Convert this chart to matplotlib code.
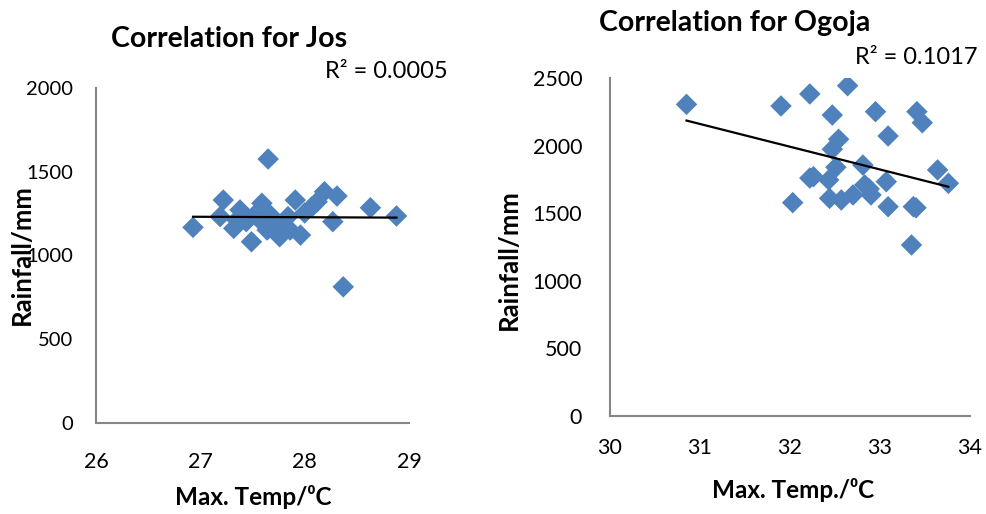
import numpy as np
import matplotlib
matplotlib.use("Agg")
import matplotlib.pyplot as plt

plt.rcParams['font.family'] = ['Lato', 'DejaVu Sans']

# ---- Data ----
jos_temp = [27.65, 27.22, 26.93, 27.19, 27.38, 27.32, 27.49, 27.59, 27.44, 27.57,
            27.67, 27.64, 27.76, 27.84, 27.91, 27.86, 27.96, 28.00, 28.07, 28.12,
            28.19, 28.31, 28.27, 28.37, 28.63, 28.88, 27.35, 27.79, 27.53, 27.72]
jos_rain = [1576, 1331, 1168, 1232, 1272, 1162, 1082, 1312, 1202, 1212,
            1242, 1152, 1112, 1232, 1331, 1152, 1122, 1254, 1291, 1321,
            1381, 1355, 1202, 813, 1285, 1236, 1212, 1182, 1248, 1200]

ogoja_temp = [30.85, 31.90, 32.22, 32.64, 32.47, 32.95, 33.41, 33.47, 33.09, 32.54,
              32.47, 32.51, 32.81, 32.26, 32.43, 32.83, 33.07, 33.64, 33.76, 32.03,
              32.44, 32.57, 32.70, 32.90, 33.09, 33.37, 33.35, 32.22, 33.40, 32.88]
ogoja_rain = [2305, 2293, 2382, 2443, 2226, 2251, 2251, 2169, 2071, 2047,
              1973, 1840, 1856, 1770, 1746, 1709, 1733, 1820, 1721, 1578,
              1610, 1598, 1635, 1635, 1548, 1548, 1265, 1760, 1540, 1680]

jos_xticks = [26, 27, 28, 29]
jos_yticks = [0, 500, 1000, 1500, 2000]
ogoja_xticks = [30, 31, 32, 33, 34]
ogoja_yticks = [0, 500, 1000, 1500, 2000, 2500]

jos_r2_label = "R² = 0.0005"
ogoja_r2_label = "R² = 0.1017"

W, H = 987, 514
fig = plt.figure(figsize=(W / 100, H / 100), dpi=100)

blue = '#4F81BD'
grey = '#868686'


def make_ax(rect, x, y, xlim, ylim, xticks, yticks, xpad, ypad, xls, yls):
    ax = fig.add_axes(rect)
    ax.scatter(x, y, marker='D', s=120, color=blue, edgecolors='none', zorder=3)
    coef = np.polyfit(x, y, 1)
    xs = np.array([min(x), max(x)])
    ax.plot(xs, np.polyval(coef, xs), color='black', lw=1.6, zorder=4)
    ax.set_xlim(*xlim)
    ax.set_ylim(*ylim)
    ax.set_xticks(xticks)
    ax.set_yticks(yticks)
    for s in ['top', 'right']:
        ax.spines[s].set_visible(False)
    for s in ['left', 'bottom']:
        ax.spines[s].set_color(grey)
        ax.spines[s].set_linewidth(1.5)
    ax.tick_params(axis='x', length=0, pad=xpad, labelsize=xls)
    ax.tick_params(axis='y', length=0, pad=ypad, labelsize=yls)
    ax.patch.set_alpha(0)
    return ax


ax1 = make_ax([96 / W, 1 - 423 / H, (409 - 96) / W, (423 - 88) / H],
              jos_temp, jos_rain, (26, 29), (0, 2000), jos_xticks, jos_yticks,
              21, 16.5, 15.5, 14.5)
ax2 = make_ax([610 / W, 1 - 416 / H, (970 - 610) / W, (416 - 78) / H],
              ogoja_temp, ogoja_rain, (30, 34), (0, 2500), ogoja_xticks, ogoja_yticks,
              16, 20, 15.5, 15.5)

fig.text(229 / W, 1 - 39 / H, "Correlation for Jos", ha='center', va='center',
         fontsize=20.5, fontweight='bold')
fig.text(735 / W, 1 - 23 / H, "Correlation for Ogoja", ha='center', va='center',
         fontsize=20.5, fontweight='bold')
fig.text(386 / W, 1 - 72 / H, jos_r2_label, ha='center', va='center', fontsize=17)
fig.text(916 / W, 1 - 58 / H, ogoja_r2_label, ha='center', va='center', fontsize=17)

fig.text(22 / W, 1 - 255 / H, "Rainfall/mm", ha='center', va='center', rotation=90,
         fontsize=18.5, fontweight='bold')
fig.text(509 / W, 1 - 260 / H, "Rainfall/mm", ha='center', va='center', rotation=90,
         fontsize=18.5, fontweight='bold')
fig.text(253 / W, 1 - 497 / H, "Max. Temp/⁰C", ha='center', va='center',
         fontsize=17.5, fontweight='bold')
fig.text(793 / W, 1 - 490 / H, "Max. Temp./⁰C", ha='center', va='center',
         fontsize=17.5, fontweight='bold')

fig.savefig("out.png", dpi=100)
